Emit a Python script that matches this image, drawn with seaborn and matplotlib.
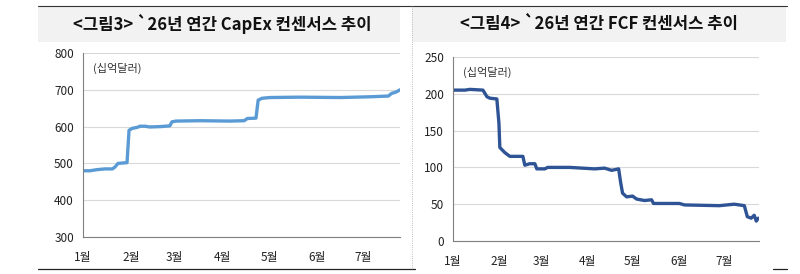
import pandas as pd
import seaborn as sns
import matplotlib.pyplot as plt
from matplotlib.patches import Rectangle
from matplotlib.lines import Line2D

# day index from Jan 1 (0 = 1월 1일)
capex_day = [0, 4.5, 9, 14, 19, 20.6, 22.6, 28.4, 29.7, 31.6, 35, 36.8, 40, 43, 50, 56,
             57.4, 60, 75.5, 95, 104, 106, 111.6, 113, 115.5, 120.6, 140, 166, 185, 197,
             199, 202, 204.5]
capex_val = [480, 480, 483, 485, 485, 490, 500, 502, 590, 595, 598, 601, 601, 599, 600, 602,
             613, 615, 616, 615, 616, 622, 623, 672, 677, 679, 680, 679, 681, 683,
             690, 694, 700]

fcf_day = [0, 8, 11.3, 20, 22.7, 24.7, 29.3, 30.7, 31.3, 34.7, 38, 46.7, 48, 51.3, 54.7,
           56, 61.3, 63.3, 78, 94.7, 101.3, 106, 110.7, 112, 113.3, 116, 120, 122.7, 128,
           132.7, 134, 151.3, 154.7, 178, 188, 194.7, 196.7, 199.3, 201.3, 202.7, 204]
fcf_val = [205, 205, 206, 205, 196, 194, 193, 160, 127, 120, 115, 115, 103, 105, 105,
           98, 98, 100, 100, 98, 99, 96, 98, 80, 65, 60, 61, 57, 55,
           56, 51, 51, 49, 48, 50, 48, 33, 31, 35, 27, 31]

month_pos = [0, 31, 59, 90, 120, 151, 181]
month_lbl = ["1월", "2월", "3월", "4월", "5월", "6월", "7월"]

titles = ["<그림3> `26년 연간 CapEx 컨센서스 추이", "<그림4> `26년 연간 FCF 컨센서스 추이"]
unit = "(십억달러)"

sns.set_style("white")
plt.rcParams['font.family'] = ['Noto Sans CJK KR', 'DejaVu Sans']

W, H = 800, 274
fig = plt.figure(figsize=(8, 2.74), dpi=100)

def fx(px):
    return px / W

def fy(py):
    return 1 - py / H

# title banners
for x0, x1, cx, t in [(38, 400, 222, titles[0]), (412, 786, 599, titles[1])]:
    fig.add_artist(Rectangle((fx(x0), fy(42)), fx(x1 - x0), (42 - 6) / H,
                             transform=fig.transFigure, facecolor="#f2f2f2", edgecolor="none"))
    fig.text(fx(cx), fy(24), t, ha="center", va="center", fontsize=12, fontweight="bold",
             color="#111111")
fig.add_artist(Line2D([fx(38), fx(787)], [fy(6), fy(6)], color="#333333", lw=0.8))
fig.add_artist(Line2D([fx(38), fx(415)], [fy(269), fy(269)], color="#222222", lw=0.9))
fig.add_artist(Line2D([fx(773), fx(787)], [fy(269), fy(269)], color="#222222", lw=0.9))
fig.add_artist(Line2D([fx(412), fx(412)], [fy(6), fy(269)], color="#aaaaaa", lw=0.6, ls=":"))

df_c = pd.DataFrame({"day": capex_day, "val": capex_val})
df_f = pd.DataFrame({"day": fcf_day, "val": fcf_val})

specs = [
    (df_c, [fx(83), fy(237), fx(317), 184 / H], "#5b9bd5", (300, 800), [300, 400, 500, 600, 700, 800], (93, 68)),
    (df_f, [fx(453), fy(241), fx(306), 184 / H], "#2f5496", (0, 250), [0, 50, 100, 150, 200, 250], (463, 72)),
]

for df, rect, col, ylim, yt, (ux, uy) in specs:
    ax = fig.add_axes(rect)
    sns.lineplot(data=df, x="day", y="val", color=col, lw=2.4, ax=ax)
    ax.set_xlim(0, 204.5)
    ax.set_ylim(*ylim)
    ax.set_yticks(yt)
    ax.set_xticks(month_pos)
    ax.set_xticklabels(month_lbl)
    ax.set_xlabel("")
    ax.set_ylabel("")
    ax.yaxis.grid(True, color="#d9d9d9", lw=0.8)
    ax.set_axisbelow(True)
    for s in ["top", "right"]:
        ax.spines[s].set_visible(False)
    for s in ["left", "bottom"]:
        ax.spines[s].set_color("#808080")
        ax.spines[s].set_linewidth(0.8)
    ax.tick_params(axis="both", labelsize=8.5, colors="#222222", length=3, width=0.7,
                   direction="out", color="#808080")
    ax.tick_params(axis="x", pad=7)
    fig.text(fx(ux), fy(uy), unit, ha="left", va="center", fontsize=8, color="#333333")

fig.savefig("out.png", dpi=100, facecolor="white")
